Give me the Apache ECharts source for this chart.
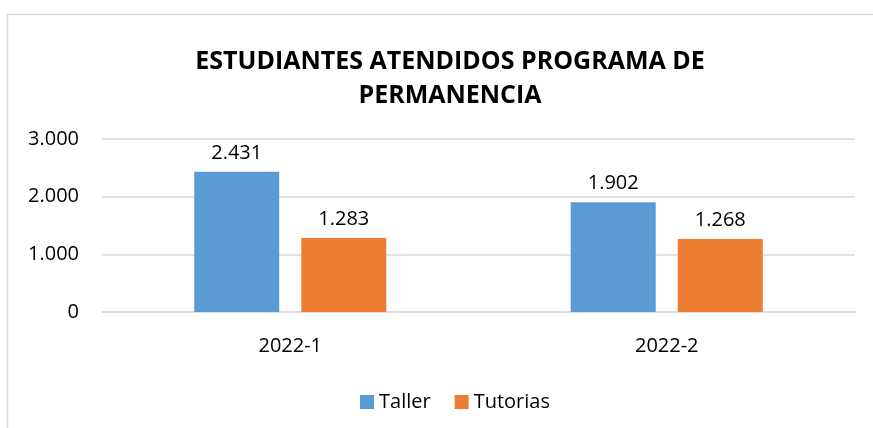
<!DOCTYPE html>
<html>
<head>
<meta charset="utf-8">
<style>
  html, body { margin: 0; padding: 0; background: #fff; }
  #chart { width: 873px; height: 428px; }
</style>
<script src="https://cdn.jsdelivr.net/npm/echarts@6/dist/echarts.min.js"></script>
</head>
<body>
<div id="chart"></div>
<script>
  // datos del grafico
  var periodos = ['2022-1', '2022-2'];
  var taller = [2431, 1902];
  var tutorias = [1283, 1268];
  var yTicks = [0, 1000, 2000, 3000];

  var fuente = '"Open Sans", "Liberation Sans", sans-serif';

  // separador de miles con punto
  function miles(v) {
    return String(v).replace(/\B(?=(\d{3})+(?!\d))/g, '.');
  }

  var myChart = echarts.init(document.getElementById('chart'));
  myChart.setOption({
    animation: false,
    textStyle: { fontFamily: fuente },
    title: {
      text: 'ESTUDIANTES ATENDIDOS PROGRAMA DE\nPERMANENCIA',
      left: 445,
      top: 40,
      textAlign: 'center',
      textStyle: { fontSize: 25, fontWeight: 'bold', color: '#000', lineHeight: 34, fontFamily: fuente }
    },
    graphic: [{
      type: 'rect',
      shape: { x: 7.5, y: 14.5, width: 900, height: 500 },
      style: { fill: 'none', stroke: '#d9d9d9', lineWidth: 1.5 },
      silent: true
    }],
    legend: {
      data: ['Taller', 'Tutorias'],
      left: 355,
      top: 387,
      itemWidth: 14,
      itemHeight: 14,
      itemGap: 24,
      icon: 'rect',
      textStyle: { fontSize: 20, color: '#000', fontFamily: fuente }
    },
    grid: { left: 102, right: 18, top: 139, height: 173 },
    xAxis: {
      type: 'category',
      data: periodos,
      axisLine: { lineStyle: { color: '#d9d9d9', width: 1.5 } },
      axisTick: { show: false },
      axisLabel: { fontSize: 20, color: '#000', margin: 24, fontFamily: fuente }
    },
    yAxis: {
      type: 'value',
      min: yTicks[0],
      max: yTicks[yTicks.length - 1],
      interval: 1000,
      axisLine: { show: false },
      axisTick: { show: false },
      splitLine: { lineStyle: { color: '#d9d9d9', width: 1.5 } },
      axisLabel: { fontSize: 20, color: '#000', margin: 23, formatter: miles, fontFamily: fuente }
    },
    series: [
      {
        name: 'Taller',
        type: 'bar',
        data: taller,
        barWidth: 85,
        barGap: '26%',
        itemStyle: { color: '#5b9bd5' },
        label: { show: true, position: 'top', distance: 9, fontSize: 20, color: '#000', formatter: function (p) { return miles(p.value); }, fontFamily: fuente }
      },
      {
        name: 'Tutorias',
        type: 'bar',
        data: tutorias,
        barWidth: 85,
        barGap: '26%',
        itemStyle: { color: '#ed7d31' },
        label: { show: true, position: 'top', distance: 9, fontSize: 20, color: '#000', formatter: function (p) { return miles(p.value); }, fontFamily: fuente }
      }
    ]
  });
</script>
</body>
</html>
